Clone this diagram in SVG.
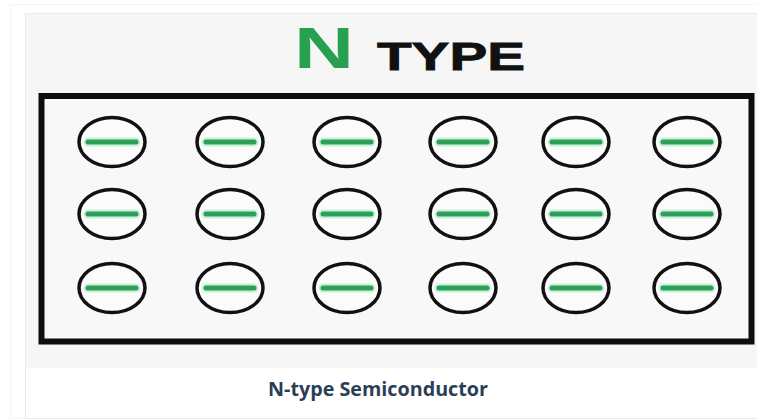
<svg xmlns="http://www.w3.org/2000/svg" width="757" height="420" viewBox="0 0 757 420">
  <defs>
    <style>
      .e{fill:#fbfbfb;stroke:#111;stroke-width:3.5}
      .m{stroke:#2f9e5a;stroke-width:5;stroke-linecap:round}
      .h{stroke:#c8f2d6;stroke-width:9;stroke-linecap:round}
    </style>
    <g id="electron">
      <ellipse class="e" cx="0" cy="0" rx="33" ry="24.5"/>
      <line class="h" x1="-24" y1="0" x2="24" y2="0"/>
      <line class="m" x1="-24" y1="0" x2="24" y2="0"/>
    </g>
  </defs>
  <rect width="757" height="420" fill="#ffffff"/>
  <rect x="10.5" y="4.5" width="760" height="414" fill="#ffffff" stroke="#f5f5f5"/>
  <rect x="25.5" y="13.5" width="740" height="405" fill="#ffffff" stroke="#e8e8e8"/>
  <rect x="26" y="14" width="731" height="354" fill="#f6f6f6"/>
  <g id="title">
    <text x="294" y="68" font-family="Liberation Sans, Arial, sans-serif" font-weight="bold" font-size="57" fill="#27a050" textLength="60" lengthAdjust="spacingAndGlyphs">N</text>
    <text x="377" y="70" font-family="Liberation Sans, Arial, sans-serif" font-weight="bold" font-size="39" fill="#111" stroke="#111" stroke-width="0.8" textLength="148" lengthAdjust="spacingAndGlyphs">TYPE</text>
  </g>
  <g id="semiconductor">
    <rect x="41.5" y="96" width="710" height="245.5" fill="#f8f8f8" stroke="#0d0d0d" stroke-width="6"/>
  </g>
  <g id="electrons">
    <use href="#electron" x="112" y="142"/>
    <use href="#electron" x="230" y="142"/>
    <use href="#electron" x="347" y="142"/>
    <use href="#electron" x="463" y="142"/>
    <use href="#electron" x="576" y="142"/>
    <use href="#electron" x="687" y="142"/>
    <use href="#electron" x="112" y="214"/>
    <use href="#electron" x="230" y="214"/>
    <use href="#electron" x="347" y="214"/>
    <use href="#electron" x="463" y="214"/>
    <use href="#electron" x="576" y="214"/>
    <use href="#electron" x="687" y="214"/>
    <use href="#electron" x="112" y="288"/>
    <use href="#electron" x="230" y="288"/>
    <use href="#electron" x="347" y="288"/>
    <use href="#electron" x="463" y="288"/>
    <use href="#electron" x="576" y="288"/>
    <use href="#electron" x="687" y="288"/>
  </g>
  <g id="connectors"/>
  <g id="caption">
    <text x="378" y="396" text-anchor="middle" font-family="Open Sans, Liberation Sans, sans-serif" font-weight="bold" font-size="19.5" fill="#2c3e57" textLength="220" lengthAdjust="spacingAndGlyphs">N-type Semiconductor</text>
  </g>
</svg>
